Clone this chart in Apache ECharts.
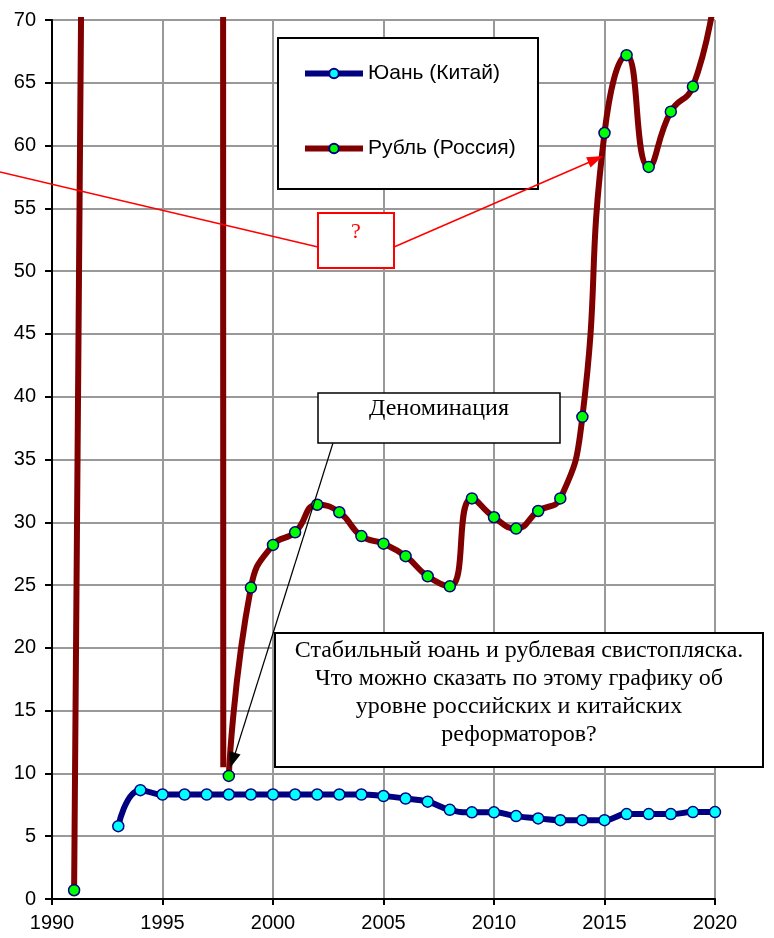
<!DOCTYPE html>
<html>
<head>
<meta charset="utf-8">
<script src="https://cdn.jsdelivr.net/npm/echarts@6/dist/echarts.min.js"></script>
<style>
html,body{margin:0;padding:0;background:#fff;}
#chart{width:774px;height:938px;}
</style>
</head>
<body>
<div id="chart"></div>
<script>
// ---- data ----
const yuanYears = [1993,1994,1995,1996,1997,1998,1999,2000,2001,2002,2003,2004,2005,2006,2007,2008,2009,2010,2011,2012,2013,2014,2015,2016,2017,2018,2019,2020];
const yuanValues = [5.8,8.67,8.32,8.32,8.32,8.32,8.32,8.32,8.32,8.32,8.32,8.32,8.2,8.0,7.75,7.1,6.9,6.9,6.6,6.42,6.28,6.28,6.28,6.76,6.76,6.76,6.92,6.92];

// old (pre-denomination) rubles; last point is the end of the drawn segment
const rubOldYears = [1991,1992,1993,1994,1995,1996,1997,1997.75];
const rubOldValues = [0.7,222,930,2190,4560,5120,5785,10.5];

// new rubles after denomination
const rubNewYears = [1998,1999,2000,2001,2002,2003,2004,2005,2006,2007,2008,2009,2010,2011,2012,2013,2014,2015,2016,2017,2018,2019,2020];
const rubNewValues = [9.8,24.8,28.2,29.2,31.4,30.8,28.9,28.3,27.3,25.7,24.9,31.9,30.4,29.5,30.9,31.9,38.4,61.0,67.2,58.3,62.7,64.7,72.1];

const xTicks = [1990,1995,2000,2005,2010,2015,2020];
const yTicks = [0,5,10,15,20,25,30,35,40,45,50,55,60,65,70];

const legendNames = ['Юань (Китай)','Рубль (Россия)'];
const noteQuestion = '?';
const noteDenom = 'Деноминация';
const noteMain = ['Стабильный юань и рублевая свистопляска.','Что можно сказать по этому графику об','уровне российских и китайских','реформаторов?'];

// ---- helpers ----
function pairs(xs, ys){ return xs.map((x,i)=>[x, ys[i]]); }
function arrowHead(x1,y1,x2,y2,len,half){
  const dx=x2-x1, dy=y2-y1, L=Math.hypot(dx,dy), ux=dx/L, uy=dy/L;
  const bx=x2-ux*len, by=y2-uy*len;
  return [[x2,y2],[bx-uy*half,by+ux*half],[bx+uy*half,by-ux*half]];
}

const SANS = '"Liberation Sans", Arial, sans-serif';
const SERIF = '"Liberation Serif", "Times New Roman", serif';

const chart = echarts.init(document.getElementById('chart'), null, {renderer:'canvas'});

const symBorder = {borderColor:'#000080', borderWidth:1.5};

const option = {
  animation:false,
  backgroundColor:'#fff',
  grid:{left:52, right:59, top:20, bottom:39, containLabel:false},
  xAxis:{
    type:'value', min:xTicks[0], max:xTicks[xTicks.length-1], interval:5,
    axisLine:{show:true, onZero:false, lineStyle:{color:'#000', width:2}},
    axisTick:{show:true, length:6, lineStyle:{color:'#000', width:2}},
    axisLabel:{color:'#000', fontSize:20, fontFamily:SANS, margin:14, formatter:(v)=>String(v)},
    splitLine:{show:true, lineStyle:{color:'#999', width:2}}
  },
  yAxis:{
    type:'value', min:yTicks[0], max:yTicks[yTicks.length-1], interval:5,
    axisLine:{show:true, onZero:false, lineStyle:{color:'#000', width:2}},
    axisTick:{show:true, length:7, lineStyle:{color:'#000', width:2}},
    axisLabel:{color:'#000', fontSize:20, fontFamily:SANS, margin:16, formatter:(v)=>String(v)},
    splitLine:{show:true, lineStyle:{color:'#999', width:2}}
  },
  legend:{
    data:legendNames,
    orient:'vertical', left:302, top:63, padding:0,
    itemWidth:58, itemHeight:12, itemGap:54,
    lineStyle:{width:6},
    textStyle:{color:'#000', fontSize:21, fontFamily:SANS, lineHeight:18},
    z:6
  },
  series:[
    {
      name:legendNames[1], type:'line', smooth:0.5, clip:true,
      data:pairs(rubNewYears, rubNewValues),
      symbol:'circle', symbolSize:11,
      lineStyle:{color:'#800000', width:6},
      itemStyle:Object.assign({color:'#00ff00'}, symBorder),
      z:3
    },
    {
      name:legendNames[1], type:'line', smooth:false, clip:true,
      data:pairs(rubOldYears, rubOldValues).map((p,i)=>({value:p, symbol: i===0 ? 'circle' : 'none'})),
      symbolSize:11,
      lineStyle:{color:'#800000', width:6},
      itemStyle:Object.assign({color:'#00ff00'}, symBorder),
      z:3
    },
    {
      name:legendNames[0], type:'line', smooth:0.5, clip:true,
      data:pairs(yuanYears, yuanValues),
      symbol:'circle', symbolSize:11,
      lineStyle:{color:'#000080', width:6},
      itemStyle:Object.assign({color:'#00ffff'}, symBorder),
      z:3
    }
  ],
  graphic:[
    // legend frame
    {type:'rect', shape:{x:278, y:38, width:260, height:151}, style:{fill:'#fff', stroke:'#000', lineWidth:2}, z:5},
    // "?" note with red lines
    {type:'line', shape:{x1:0, y1:172, x2:318, y2:247}, style:{stroke:'#ff0000', lineWidth:1.5}, z:20},
    {type:'line', shape:{x1:394, y1:247, x2:592, y2:161}, style:{stroke:'#ff0000', lineWidth:1.5}, z:20},
    {type:'polygon', shape:{points:arrowHead(394,247,603,156,16,5.5)}, style:{fill:'#ff0000'}, z:20},
    {type:'rect', shape:{x:318, y:213, width:76, height:55}, style:{fill:'#fff', stroke:'#ff0000', lineWidth:2}, z:21},
    {type:'text', style:{x:356, y:232, text:noteQuestion, fill:'#ff0000', font:'22px '+SERIF, textAlign:'center', textVerticalAlign:'middle'}, z:22},
    // denomination note
    {type:'rect', shape:{x:318, y:393, width:242, height:50}, style:{fill:'#fff', stroke:'#000', lineWidth:1.5}, z:21},
    {type:'text', style:{x:439, y:409, text:noteDenom, fill:'#000', font:'24px '+SERIF, textAlign:'center', textVerticalAlign:'middle'}, z:22},
    {type:'line', shape:{x1:333, y1:443, x2:235, y2:754}, style:{stroke:'#000', lineWidth:1.2}, z:20},
    {type:'polygon', shape:{points:arrowHead(333,443,230,768,16,6)}, style:{fill:'#000'}, z:20},
    // main note
    {type:'rect', shape:{x:275, y:633, width:488, height:134}, style:{fill:'#fff', stroke:'#000', lineWidth:2}, z:21},
    {type:'text', style:{x:519, y:651, text:noteMain[0], fill:'#000', font:'24px '+SERIF, textAlign:'center', textVerticalAlign:'middle'}, z:22},
    {type:'text', style:{x:519, y:679, text:noteMain[1], fill:'#000', font:'24px '+SERIF, textAlign:'center', textVerticalAlign:'middle'}, z:22},
    {type:'text', style:{x:519, y:707, text:noteMain[2], fill:'#000', font:'24px '+SERIF, textAlign:'center', textVerticalAlign:'middle'}, z:22},
    {type:'text', style:{x:519, y:735, text:noteMain[3], fill:'#000', font:'24px '+SERIF, textAlign:'center', textVerticalAlign:'middle'}, z:22}
  ]
};
chart.setOption(option);
</script>
</body>
</html>
